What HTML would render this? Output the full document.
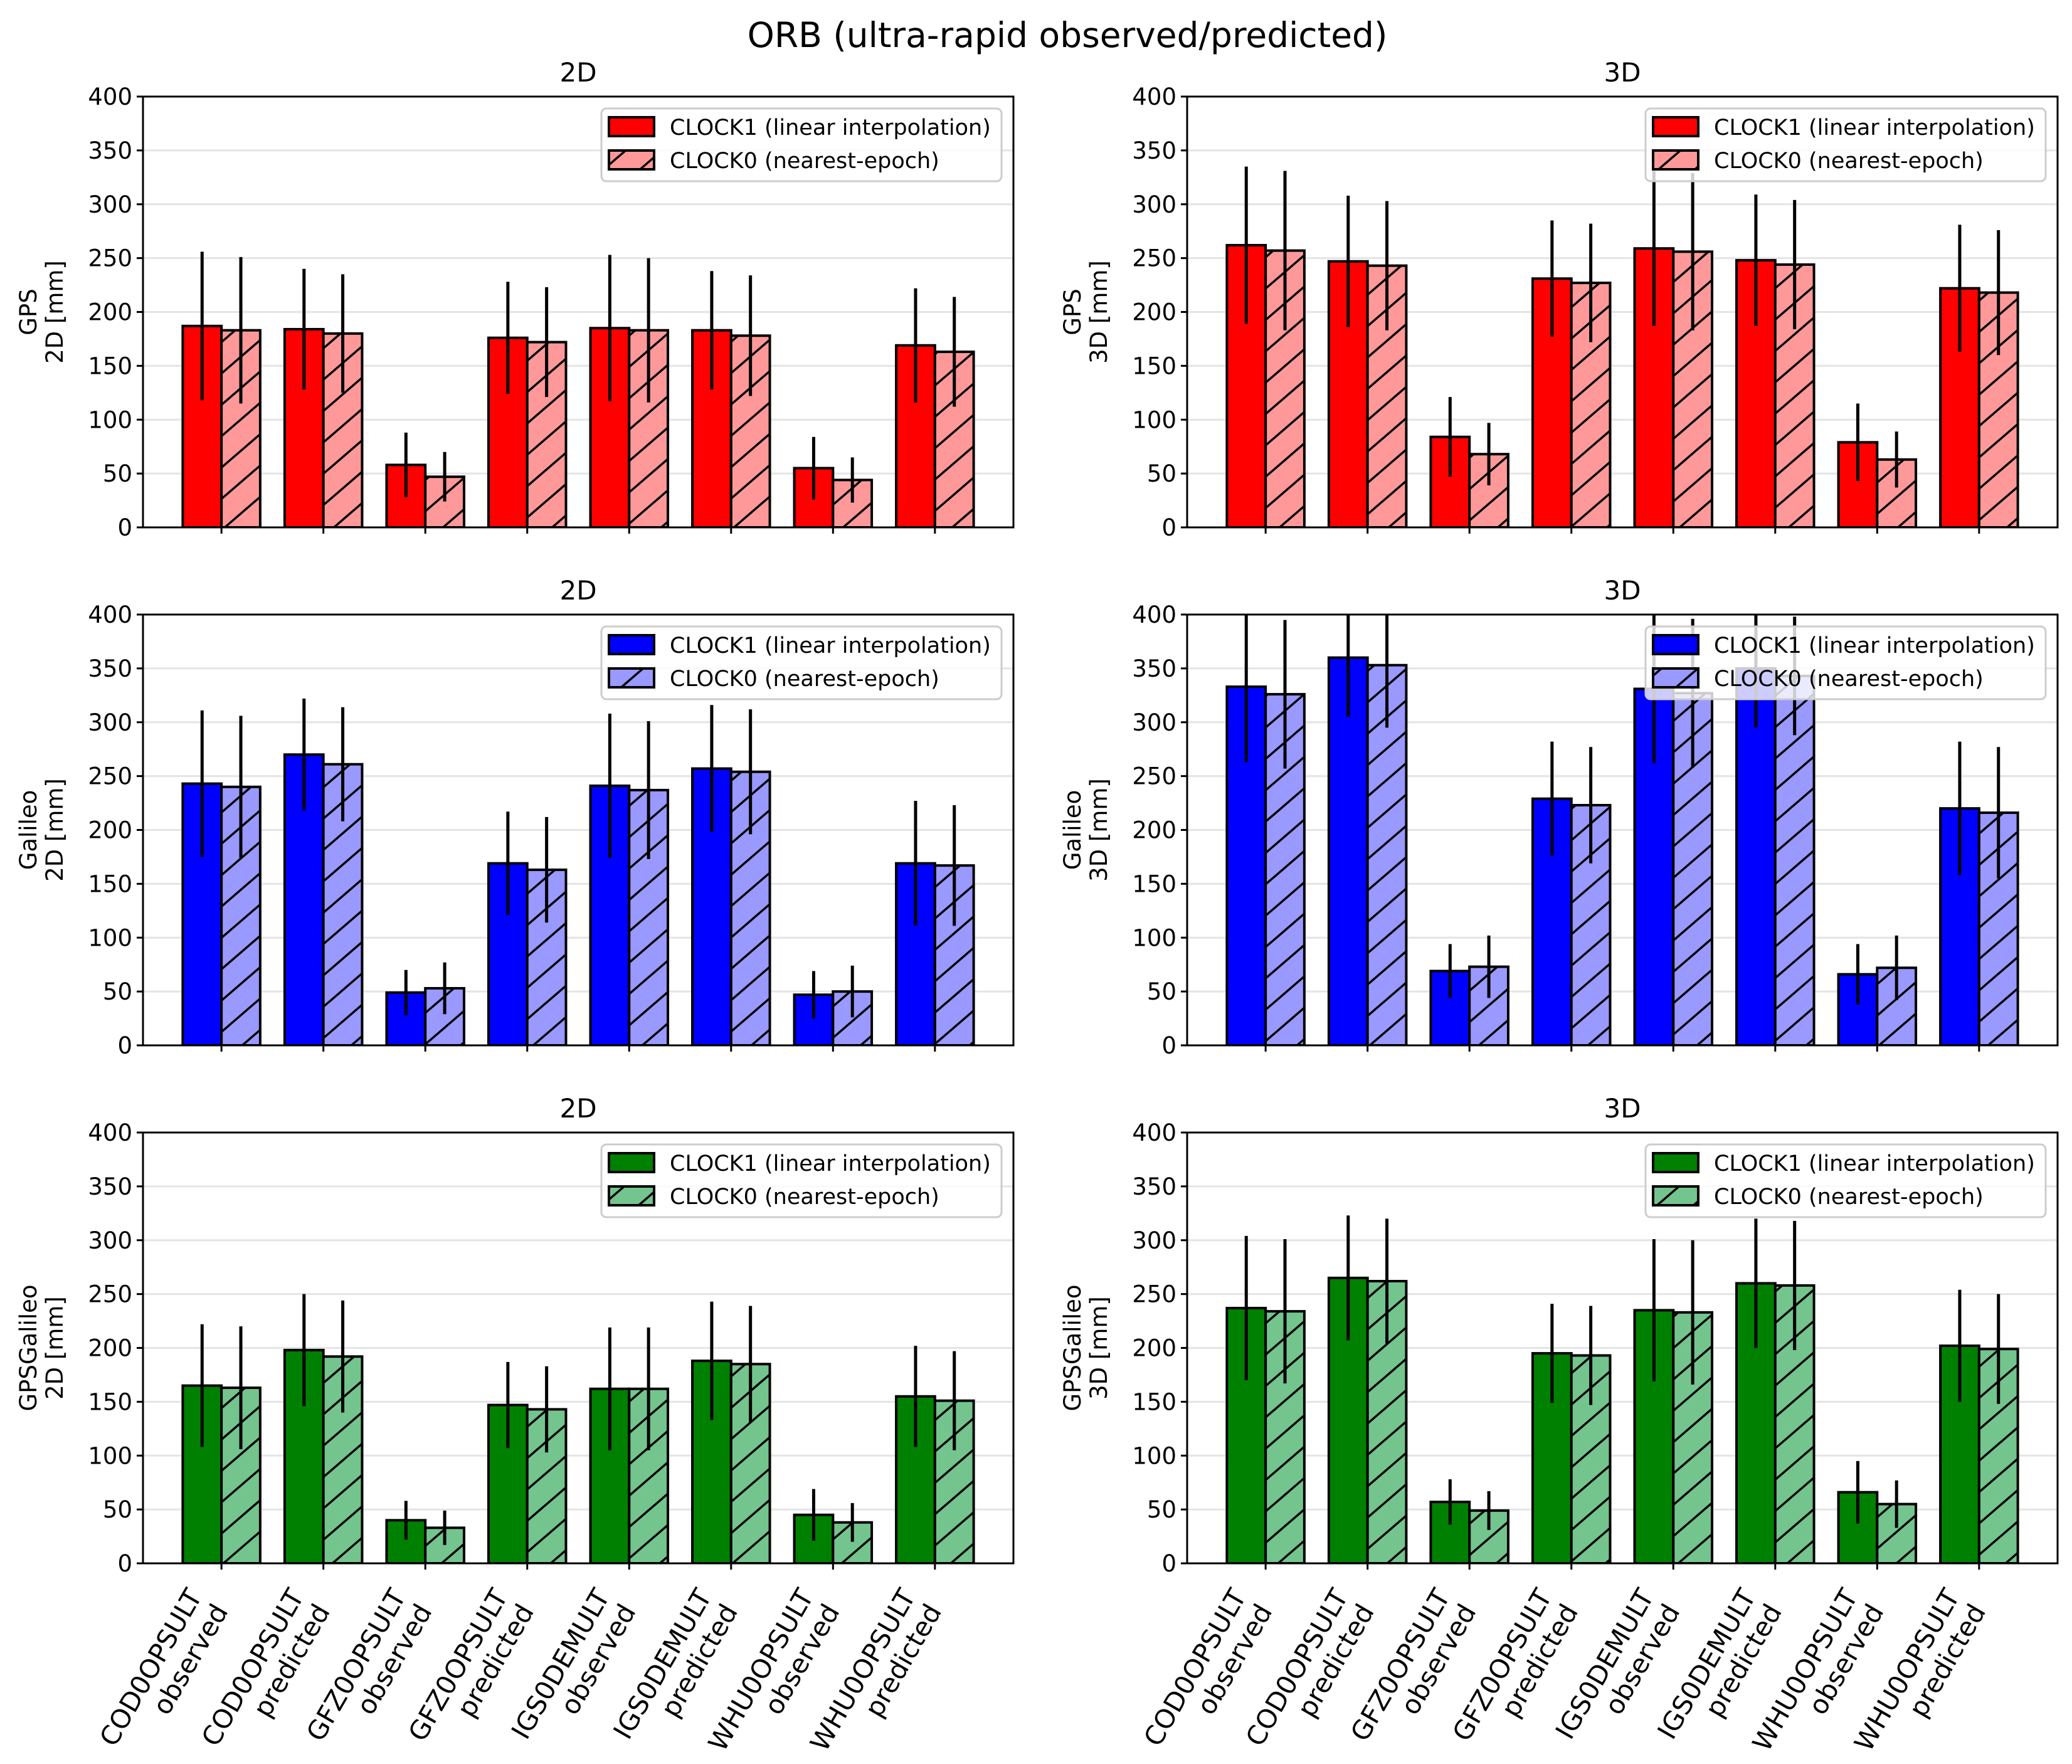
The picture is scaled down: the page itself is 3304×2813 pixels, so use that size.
<!DOCTYPE html>
<html><head><meta charset="utf-8"><style>
html,body{margin:0;padding:0;background:#fff;}
svg{display:block;font-family:"DejaVu Sans","Liberation Sans",sans-serif;}
</style></head><body>
<svg id="fig" width="3304" height="2813" viewBox="0 0 3304 2813" xmlns="http://www.w3.org/2000/svg">
<defs>
<pattern id="hatch-red" patternUnits="userSpaceOnUse" width="58" height="50"><rect width="58" height="50" fill="#ff9999"/><path d="M-29,75 L87,-25 M-29,25 L29,-25 M29,75 L87,25" stroke="#000" stroke-width="3.5"/></pattern>
<pattern id="hatch-blue" patternUnits="userSpaceOnUse" width="58" height="50"><rect width="58" height="50" fill="#9999ff"/><path d="M-29,75 L87,-25 M-29,25 L29,-25 M29,75 L87,25" stroke="#000" stroke-width="3.5"/></pattern>
<pattern id="hatch-green" patternUnits="userSpaceOnUse" width="58" height="50"><rect width="58" height="50" fill="#74c48e"/><path d="M-29,75 L87,-25 M-29,25 L29,-25 M29,75 L87,25" stroke="#000" stroke-width="3.5"/></pattern>
</defs>
<text x="1702" y="75" font-size="55" text-anchor="middle">ORB (ultra-rapid observed/predicted)</text>
</svg>
<script>
const categories = ["COD0OPSULT\nobserved","COD0OPSULT\npredicted","GFZ0OPSULT\nobserved","GFZ0OPSULT\npredicted","IGS0DEMULT\nobserved","IGS0DEMULT\npredicted","WHU0OPSULT\nobserved","WHU0OPSULT\npredicted"];
const yTicks = [0,50,100,150,200,250,300,350,400];
const legendLabels = ["CLOCK1 (linear interpolation)","CLOCK0 (nearest-epoch)"];

const gps2dClock1 = [187,184,58,176,185,183,55,169];
const gps2dClock0 = [183,180,47,172,183,178,44,163];
const gps2dErr1 = [69,56,30,52,68,55,29,53];
const gps2dErr0 = [68,55,23,51,67,56,21,51];

const gps3dClock1 = [262,247,84,231,259,248,79,222];
const gps3dClock0 = [257,243,68,227,256,244,63,218];
const gps3dErr1 = [73,61,37,54,72,61,36,59];
const gps3dErr0 = [74,60,29,55,73,60,26,58];

const gal2dClock1 = [243,270,49,169,241,257,47,169];
const gal2dClock0 = [240,261,53,163,237,254,50,167];
const gal2dErr1 = [68,52,21,48,67,59,22,58];
const gal2dErr0 = [66,53,24,49,64,58,24,56];

const gal3dClock1 = [333,360,69,229,331,350,66,220];
const gal3dClock0 = [326,353,73,223,327,343,72,216];
const gal3dErr1 = [70,55,25,53,69,55,28,62];
const gal3dErr0 = [69,58,29,54,69,55,30,61];

const gg2dClock1 = [165,198,40,147,162,188,45,155];
const gg2dClock0 = [163,192,33,143,162,185,38,151];
const gg2dErr1 = [57,52,18,40,57,55,24,47];
const gg2dErr0 = [57,52,16,40,57,54,18,46];

const gg3dClock1 = [237,265,57,195,235,260,66,202];
const gg3dClock0 = [234,262,49,193,233,258,55,199];
const gg3dErr1 = [67,58,21,46,66,60,29,52];
const gg3dErr0 = [67,58,18,46,67,60,22,51];

const NS = "http://www.w3.org/2000/svg";
const svg = document.getElementById("fig");
function mk(tag, attrs, parent){const e=document.createElementNS(NS,tag);for(const k in attrs)e.setAttribute(k,attrs[k]);(parent||svg).appendChild(e);return e;}

const panels = [
 {id:"gps-2d",x0:228,x1:1616,y0:154,y1:841,title:"2D",sys:"GPS",dim:"2D",c1:gps2dClock1,c0:gps2dClock0,e1:gps2dErr1,e0:gps2dErr0,col:"#ff0000",hatch:"hatch-red",xl:false},
 {id:"gps-3d",x0:1893,x1:3281,y0:154,y1:841,title:"3D",sys:"GPS",dim:"3D",c1:gps3dClock1,c0:gps3dClock0,e1:gps3dErr1,e0:gps3dErr0,col:"#ff0000",hatch:"hatch-red",xl:false},
 {id:"galileo-2d",x0:228,x1:1616,y0:980,y1:1667,title:"2D",sys:"Galileo",dim:"2D",c1:gal2dClock1,c0:gal2dClock0,e1:gal2dErr1,e0:gal2dErr0,col:"#0000ff",hatch:"hatch-blue",xl:false},
 {id:"galileo-3d",x0:1893,x1:3281,y0:980,y1:1667,title:"3D",sys:"Galileo",dim:"3D",c1:gal3dClock1,c0:gal3dClock0,e1:gal3dErr1,e0:gal3dErr0,col:"#0000ff",hatch:"hatch-blue",xl:false},
 {id:"gpsgalileo-2d",x0:228,x1:1616,y0:1806,y1:2493,title:"2D",sys:"GPSGalileo",dim:"2D",c1:gg2dClock1,c0:gg2dClock0,e1:gg2dErr1,e0:gg2dErr0,col:"#008000",hatch:"hatch-green",xl:true},
 {id:"gpsgalileo-3d",x0:1893,x1:3281,y0:1806,y1:2493,title:"3D",sys:"GPSGalileo",dim:"3D",c1:gg3dClock1,c0:gg3dClock0,e1:gg3dErr1,e0:gg3dErr0,col:"#008000",hatch:"hatch-green",xl:true}
];

const XMIN=-0.77, XMAX=7.77, YMAX=400, BW=0.38;

panels.forEach((p,pi)=>{
  const g = mk("g",{});
  
  
  const xs = v => p.x0 + (v-XMIN)/(XMAX-XMIN)*(p.x1-p.x0);
  const ys = v => p.y1 - v/YMAX*(p.y1-p.y0);
  const clip = mk("clipPath",{id:"clip"+pi},g);
  mk("rect",{x:p.x0,y:p.y0,width:p.x1-p.x0,height:p.y1-p.y0},clip);
  yTicks.forEach(t=>{
    const gl = mk("line",{x1:p.x0,x2:p.x1,y1:ys(t),y2:ys(t),stroke:"#e4e4e4","stroke-width":3},g);
    
    
  });
  const body = mk("g",{"clip-path":"url(#clip"+pi+")"},g);
  categories.forEach((c,i)=>{
    const b1 = mk("rect",{x:xs(i-BW),y:ys(p.c1[i]),width:xs(i)-xs(i-BW),height:ys(0)-ys(p.c1[i]),fill:p.col,stroke:"#000","stroke-width":4},body);
    
    
    const b0 = mk("rect",{x:xs(i),y:ys(p.c0[i]),width:xs(i+BW)-xs(i),height:ys(0)-ys(p.c0[i]),fill:"url(#"+p.hatch+")",stroke:"#000","stroke-width":4},body);
    
    
  });
  categories.forEach((c,i)=>{
    const e1 = mk("line",{x1:xs(i-BW/2),x2:xs(i-BW/2),y1:ys(p.c1[i]-p.e1[i]),y2:ys(p.c1[i]+p.e1[i]),stroke:"#000","stroke-width":5},body);
    
    
    const e0 = mk("line",{x1:xs(i+BW/2),x2:xs(i+BW/2),y1:ys(p.c0[i]-p.e0[i]),y2:ys(p.c0[i]+p.e0[i]),stroke:"#000","stroke-width":5},body);
    
    
  });
  const fr = mk("rect",{x:p.x0,y:p.y0,width:p.x1-p.x0,height:p.y1-p.y0,fill:"none",stroke:"#000","stroke-width":3},g);
  
  
  yTicks.forEach(t=>{
    mk("line",{x1:p.x0-10,x2:p.x0,y1:ys(t),y2:ys(t),stroke:"#000","stroke-width":3},g);
    const tl = mk("text",{x:p.x0-17,y:ys(t)+13,"font-size":37,"text-anchor":"end"},g);
    tl.textContent = t;
    
    
  });
  categories.forEach((c,i)=>{
    mk("line",{x1:xs(i),x2:xs(i),y1:p.y1,y2:p.y1+10,stroke:"#000","stroke-width":3},g);
    if(p.xl){
      const parts=c.split("\n");
      const tg = mk("g",{transform:"translate("+(xs(i)-30)+","+(p.y1+52)+") rotate(-60)"},g);
      const tx = mk("text",{"font-size":42,"text-anchor":"end"},tg);
      
      
      parts.forEach((s,k)=>{const ts=mk("tspan",{x:0,y:k*48},tx);ts.textContent=s;});
    }
  });
  const tt = mk("text",{x:(p.x0+p.x1)/2,y:p.y0-24,"font-size":42,"text-anchor":"middle"},g);
  tt.textContent=p.title;
  
  
  const cy=(p.y0+p.y1)/2, lx=p.x0-170;
  const yl = mk("text",{transform:"translate("+lx+","+cy+") rotate(-90)","font-size":37,"text-anchor":"middle"},g);
  
  
  const t1=mk("tspan",{x:0,y:0},yl); t1.textContent=p.sys;
  const t2=mk("tspan",{x:0,y:42},yl); t2.textContent=p.dim+" [mm]";
  const lx0=p.x1-657, ly0=p.y0+19;
  const lg = mk("g",{},g);
  
  
  mk("rect",{x:lx0,y:ly0,width:638,height:116,rx:8,fill:"#fff","fill-opacity":0.8,stroke:"#cccccc","stroke-width":3},lg);
  legendLabels.forEach((lab,k)=>{
    const yy=ly0+29+k*53;
    const sw = mk("rect",{x:lx0+12,y:yy-15,width:72,height:30,fill:k?("url(#"+p.hatch+")"):p.col,stroke:"#000","stroke-width":4},lg);
    
    
    const lt = mk("text",{x:lx0+109,y:yy+13,"font-size":35},lg);
    lt.textContent=lab;
    
    
  });
});
</script>
</body></html>
